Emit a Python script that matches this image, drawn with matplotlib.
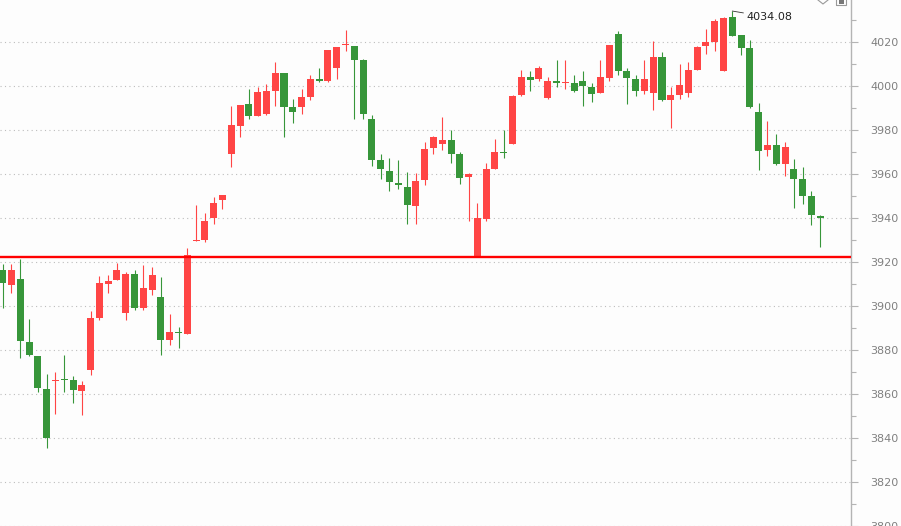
import numpy as np
from matplotlib import pyplot as plt
from matplotlib.lines import Line2D
from matplotlib.patches import Rectangle
from matplotlib.ticker import MultipleLocator

#--------------
# daily OHLC (red = up, green = down)
opens = [3916.4, 3909.7, 3912.3, 3883.8, 3877.5, 3862.1, 3865.8, 3866.7, 3866.2, 3861.2,
         3870.8, 3894.7, 3910.2, 3911.6, 3896.6, 3914.6, 3898.9, 3907.5, 3904.2, 3884.4,
         3888.1, 3887.1, 3929.4, 3929.9, 3939.9, 3948.0, 3969.2, 3981.9, 3991.7, 3986.4,
         3987.2, 3997.7, 4005.7, 3990.3, 3990.5, 3995.0, 4003.4, 4002.2, 4008.1, 4018.6,
         4018.3, 4011.6, 3985.0, 3966.4, 3961.5, 3956.1, 3954.2, 3945.4, 3957.1, 3972.0,
         3973.8, 3975.5, 3969.2, 3958.5, 3922.5, 3939.5, 3962.5, 3969.8, 3973.8, 3995.8,
         4004.3, 4003.1, 3994.5, 4002.1, 4001.4, 4001.2, 4002.1, 3999.4, 3996.8, 4003.6,
         4023.8, 4006.6, 4003.4, 3997.8, 3996.8, 4013.4, 3993.6, 3995.9, 3996.8, 4007.1,
         4018.3, 4020.0, 4007.0, 4031.3, 4023.2, 4017.3, 3988.4, 3970.9, 3973.0, 3964.6,
         3962.2, 3957.7, 3950.0, 3940.9]
highs = [3919.1, 3919.1, 3921.4, 3894.2, 3877.5, 3869.3, 3869.8, 3877.9, 3868.4, 3865.7,
         3897.7, 3913.7, 3914.1, 3919.5, 3915.5, 3916.4, 3918.6, 3917.7, 3913.2, 3896.5,
         3890.6, 3926.3, 3946.1, 3942.4, 3949.7, 3950.6, 3990.8, 3991.2, 3998.5, 3999.4,
         4000.7, 4010.7, 4005.7, 3994.0, 3998.5, 4004.8, 4008.4, 4016.5, 4017.9, 4025.6,
         4018.3, 4012.5, 3986.8, 3969.2, 3967.3, 3966.4, 3961.0, 3960.6, 3974.6, 3977.3,
         3985.9, 3980.0, 3970.1, 3960.6, 3946.6, 3965.1, 3975.9, 3980.0, 3995.8, 4007.5,
         4007.0, 4008.9, 4004.3, 4012.0, 4012.0, 4004.8, 4007.0, 4001.2, 4012.0, 4018.8,
         4025.1, 4008.0, 4004.8, 4011.6, 4020.6, 4015.6, 3999.4, 4010.2, 4010.7, 4018.3,
         4025.9, 4030.4, 4031.3, 4034.08, 4023.2, 4020.9, 3992.4, 3984.3, 3978.0, 3974.4,
         3966.7, 3963.1, 3952.2, 3941.4]
lows = [3899.2, 3906.0, 3876.3, 3877.4, 3860.9, 3835.5, 3850.9, 3860.7, 3855.7, 3850.3,
        3868.6, 3893.5, 3905.7, 3911.6, 3893.5, 3898.4, 3898.4, 3905.2, 3877.6, 3882.1,
        3880.8, 3887.1, 3929.4, 3929.0, 3937.2, 3944.0, 3963.4, 3976.9, 3985.1, 3986.4,
        3986.7, 3990.8, 3976.9, 3983.3, 3987.3, 3993.6, 4001.6, 4001.6, 4003.1, 4015.8,
        3985.1, 3985.1, 3963.8, 3957.6, 3952.1, 3953.0, 3937.2, 3937.2, 3954.8, 3969.3,
        3971.1, 3964.8, 3955.3, 3938.6, 3922.5, 3938.6, 3962.5, 3967.3, 3973.8, 3995.3,
        3997.7, 4002.2, 3993.9, 3999.5, 3998.6, 3997.3, 3991.0, 3992.8, 3996.8, 4002.2,
        4004.9, 3991.8, 3995.5, 3996.4, 3989.1, 3993.2, 3981.0, 3994.1, 3995.0, 4007.1,
        4014.7, 4015.9, 4007.0, 4022.9, 4014.3, 3990.2, 3961.9, 3968.2, 3964.1, 3959.2,
        3944.7, 3946.5, 3937.0, 3926.6]
closes = [3910.6, 3916.4, 3884.0, 3877.6, 3862.7, 3839.9, 3866.2, 3866.3, 3861.6, 3863.9,
          3894.7, 3910.5, 3911.4, 3916.4, 3914.6, 3899.3, 3908.2, 3914.1, 3884.4, 3888.3,
          3887.8, 3923.3, 3929.7, 3938.8, 3947.0, 3950.6, 3982.2, 3991.2, 3986.4, 3997.1,
          3997.6, 4005.7, 3990.5, 3988.2, 3994.9, 4003.0, 4002.1, 4016.5, 4017.9, 4019.0,
          4011.7, 3987.3, 3966.5, 3962.1, 3956.2, 3954.8, 3945.8, 3957.0, 3971.4, 3976.8,
          3975.5, 3969.3, 3958.0, 3960.1, 3939.8, 3962.4, 3970.1, 3969.4, 3995.3, 4004.3,
          4002.7, 4008.0, 4002.1, 4001.3, 4001.8, 3997.8, 4000.1, 3996.4, 4003.9, 4018.8,
          4006.7, 4003.6, 3997.8, 4003.0, 4013.4, 3993.6, 3995.8, 4000.3, 4007.5, 4017.8,
          4020.0, 4029.5, 4030.8, 4022.9, 4017.4, 3990.6, 3970.5, 3973.0, 3964.6, 3972.1,
          3957.8, 3950.1, 3941.5, 3939.9]

support = 3922.5      # red horizontal line
peak_label = '4034.08'
peak_idx = 83

#--------------
o, h, l, c = map(np.array, (opens, highs, lows, closes))
x = np.arange(len(o))
up = c >= o
colours = np.where(up, '#ff4545', '#37963a')

fig = plt.figure(figsize=(9.01, 5.26), dpi=100, facecolor='#fdfdfd')
ax = fig.add_axes([0, 0, 851/901, 1])
ax.set_facecolor('#fdfdfd')

ax.vlines(x, l, h, colors=colours, lw=0.8, zorder=2) #wicks
body_bot = np.minimum(o, c)
body_h = np.maximum(np.abs(c - o), 0.45) #dojis still get a thin bar
ax.bar(x, body_h, bottom=body_bot, width=0.8, color=colours, lw=0, zorder=3)

ax.axhline(support, color='#ff0000', lw=1.7, zorder=4)

ax.annotate(peak_label, xy=(peak_idx, h[peak_idx]), xytext=(10, -4.5), textcoords='offset points',
            fontsize=8, color='#222222', va='center', ha='left',
            arrowprops=dict(arrowstyle='-', color='#333333', lw=0.6, shrinkA=0, shrinkB=0))

ax.set_xlim(-0.307, 96.5)
ax.set_ylim(3800, 4039.1)

ax.yaxis.tick_right()
ax.yaxis.set_major_locator(MultipleLocator(20))
ax.yaxis.set_minor_locator(MultipleLocator(10))
ax.tick_params(axis='y', which='major', length=5, width=0.8, color='#b4b4b4', pad=9,
               labelsize=8, labelcolor='#808080')
ax.tick_params(axis='y', which='minor', length=3.5, width=0.8, color='#b4b4b4')
ax.set_xticks([])
ax.grid(axis='y', which='major', color='#bdbdbd', linestyle=(0, (1, 3)), lw=0.8)
ax.set_axisbelow(True)

for side in ['top', 'left', 'bottom']:
    ax.spines[side].set_visible(False)
ax.spines['right'].set_color('#b4b4b4')
ax.spines['right'].set_linewidth(1.0)

# little toolbar icons in the top-right corner
W, H = 901, 526
fig.add_artist(Line2D([818/W, 823/W, 828/W], [1 - 0/H, 1 - 4/H, 1 - 0/H], color='#999999', lw=0.8))
fig.add_artist(Rectangle((836/W, 1 - 5/H), 10/W, 6/H, fill=False, ec='#999999', lw=0.8))
fig.add_artist(Rectangle((839/W, 1 - 4/H), 5/W, 5/H, color='#777777', lw=0))

plt.savefig('out.png', dpi=100, facecolor=fig.get_facecolor())
